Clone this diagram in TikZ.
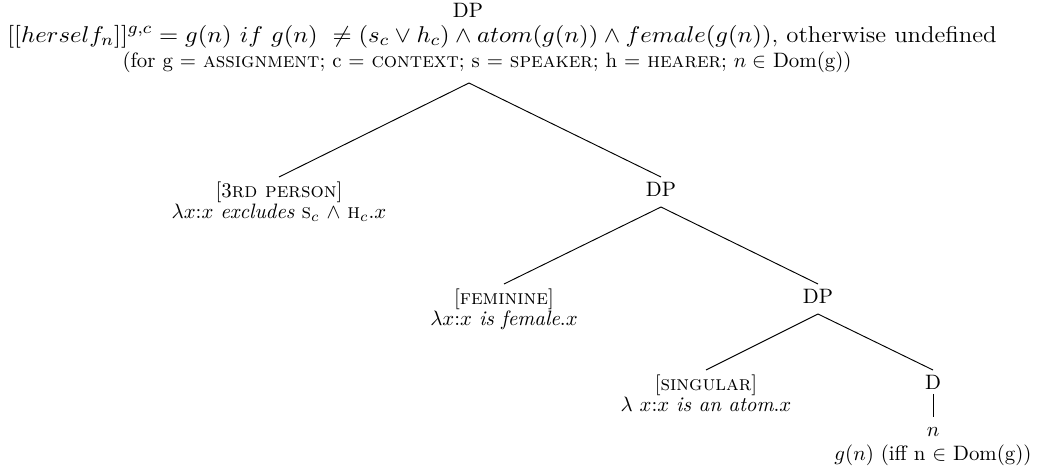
\documentclass[tikz,border=0pt]{standalone}
\begin{document}
\begin{tikzpicture}[x=0.48pt,y=-0.48pt,
  every node/.style={inner sep=2pt, font=\fontsize{10pt}{10pt}\selectfont, align=center},
  cat/.style={text height=7pt, text depth=3pt},
  leaf/.style={anchor=north},
  big/.style={font=\fontsize{11pt}{13pt}\selectfont},
  edge/.style={line width=0.45pt}]
\useasboundingbox (0,0) rectangle (1042,468);
% top block
\node[anchor=base,inner sep=1pt] (root) at (468,17) {DP};
\node[anchor=base,big,inner sep=1pt] (def) at (502,42) {\scalebox{1.08}[1]{$[[herself_n]]^{g,c} = g(n)\ if\ g(n)\ \neq (s_c \vee h_c) \wedge atom(g(n)) \wedge female(g(n))$, otherwise undefined}};
\node[anchor=base,inner sep=1pt] (for) at (487,67) {(for g $=$ \textsc{assignment}; c $=$ \textsc{context}; s $=$ \textsc{speaker}; h $=$ \textsc{hearer}; $n \in$ Dom(g))};
\coordinate (top) at (469,83);
% level 1
\node[leaf] (third) at (279,177) {[3\textsc{rd person}]\\ $\lambda x{:}x$ \textit{excludes} \textsc{s}$_c$ $\wedge$ \textsc{h}$_c$.$x$};
\node[leaf,cat] (dp1) at (661,177) {DP};
% level 2
\node[leaf] (fem) at (504,284) {[\textsc{feminine}]\\ $\lambda x{:}x$ \textit{is female}.$x$};
\node[leaf,cat] (dp2) at (818,284) {DP};
% level 3
\node[leaf] (sing) at (706,370) {[\textsc{singular}]\\ $\lambda$ $x{:}x$ \textit{is an atom}.$x$};
\node[leaf,text height=7pt,text depth=0pt] (d) at (933,370) {D};
\node[leaf] (n) at (933,417) {\strut$n$\\ $g(n)$ (iff n $\in$ Dom(g))};
% edges
\draw[edge] (top) -- (third.north);
\draw[edge] (top) -- (dp1.north);
\draw[edge] (dp1.south) -- (fem.north);
\draw[edge] (dp1.south) -- (dp2.north);
\draw[edge] (dp2.south) -- (sing.north);
\draw[edge] (dp2.south) -- (d.north);
\draw[edge] (d.south) -- (n.north);
\end{tikzpicture}
\end{document}
